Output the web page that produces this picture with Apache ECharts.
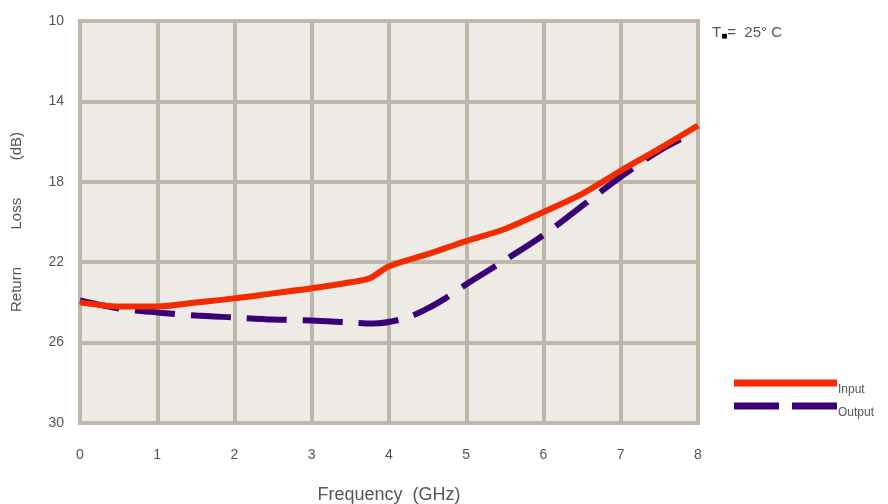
<!DOCTYPE html>
<html><head><meta charset="utf-8">
<script src="https://cdn.jsdelivr.net/npm/echarts@6/dist/echarts.min.js"></script>
<style>html,body{margin:0;padding:0;background:#fff}#c{width:888px;height:504px}</style>
</head><body><div id="c"></div>
<script>
const inputFreq = [0, 0.5, 1, 1.5, 2, 2.5, 3, 3.5, 3.75, 4, 4.5, 5, 5.5, 6, 6.5, 7, 7.5, 8];
const inputLoss = [24.0, 24.2, 24.2, 24.0, 23.8, 23.55, 23.3, 23.0, 22.8, 22.2, 21.6, 20.95, 20.35, 19.5, 18.6, 17.45, 16.35, 15.2];
const outputFreq = [0, 0.5, 1, 1.5, 2, 2.5, 3, 3.5, 3.8, 4.2, 4.5, 4.75, 5, 5.25, 5.5, 6, 6.5, 7, 7.5, 7.9];
const outputLoss = [23.9, 24.3, 24.5, 24.65, 24.75, 24.85, 24.9, 25.0, 25.05, 24.8, 24.3, 23.75, 23.1, 22.5, 21.9, 20.65, 19.2, 17.75, 16.45, 15.65];
const xTicks = [0, 1, 2, 3, 4, 5, 6, 7, 8];
const yTicks = [10, 14, 18, 22, 26, 30];
const seriesNames = ['Input', 'Output'];

const chart = echarts.init(document.getElementById('c'));
const pair = (xs, ys) => xs.map((x, i) => [x, ys[i]]);
const gridCol = '#bcb9aa';
const red = '#f42a00', purple = '#3a0078';
const txt = '#555';
chart.setOption({
  animation: false,
  textStyle: {fontFamily: 'Liberation Sans, Arial, sans-serif'},
  grid: {left: 80, right: 190, top: 21, bottom: 81, outerBoundsMode: 'none', containLabel: false,
         show: true, backgroundColor: '#eeebe6', borderColor: gridCol, borderWidth: 4},
  xAxis: {
    type: 'value', min: xTicks[0], max: xTicks[xTicks.length - 1], interval: 1,
    name: 'Frequency  (GHz)', nameLocation: 'middle', nameGap: 63,
    nameTextStyle: {color: txt, fontSize: 18},
    axisLine: {show: false}, axisTick: {show: false},
    axisLabel: {color: txt, fontSize: 14, margin: 25},
    splitLine: {show: true, lineStyle: {color: gridCol, width: 4}}
  },
  yAxis: {
    type: 'value', inverse: true, min: yTicks[0], max: yTicks[yTicks.length - 1], interval: 4,
    name: 'Return         Loss         (dB)', nameLocation: 'middle', nameGap: 56,
    nameTextStyle: {color: txt, fontSize: 15},
    axisLine: {show: false}, axisTick: {show: false},
    axisLabel: {color: txt, fontSize: 14, margin: 16},
    splitLine: {show: true, lineStyle: {color: gridCol, width: 4}}
  },
  series: [
    {name: seriesNames[0], type: 'line', data: pair(inputFreq, inputLoss), smooth: 0.3, symbol: 'none',
     lineStyle: {color: red, width: 6}, itemStyle: {color: red}, z: 3},
    {name: seriesNames[1], type: 'line', data: pair(outputFreq, outputLoss), smooth: 0.3, symbol: 'none',
     lineStyle: {color: purple, width: 6, type: [40, 16]}, itemStyle: {color: purple}, z: 2}
  ],
  graphic: [
    {type: 'text', left: 712, top: 25,
     style: {text: '{t|T}{s|■}{t|=  25° C}',
       rich: {t: {fontSize: 15, fill: txt, fontFamily: 'Liberation Sans'}, s: {fontSize: 10, fill: '#000', padding: [7, 0, 0, 0]}}}},
    {type: 'line', shape: {x1: 734, y1: 383, x2: 837, y2: 383}, style: {stroke: red, lineWidth: 7}},
    {type: 'line', shape: {x1: 734, y1: 406, x2: 837, y2: 406}, style: {stroke: purple, lineWidth: 7, lineDash: [45, 13]}},
    {type: 'text', x: 838, y: 390, style: {text: seriesNames[0], fill: txt, fontSize: 12, fontFamily: 'Liberation Sans', verticalAlign: 'middle'}},
    {type: 'text', x: 838, y: 413, style: {text: seriesNames[1], fill: txt, fontSize: 12, fontFamily: 'Liberation Sans', verticalAlign: 'middle'}}
  ]
});
</script></body></html>
